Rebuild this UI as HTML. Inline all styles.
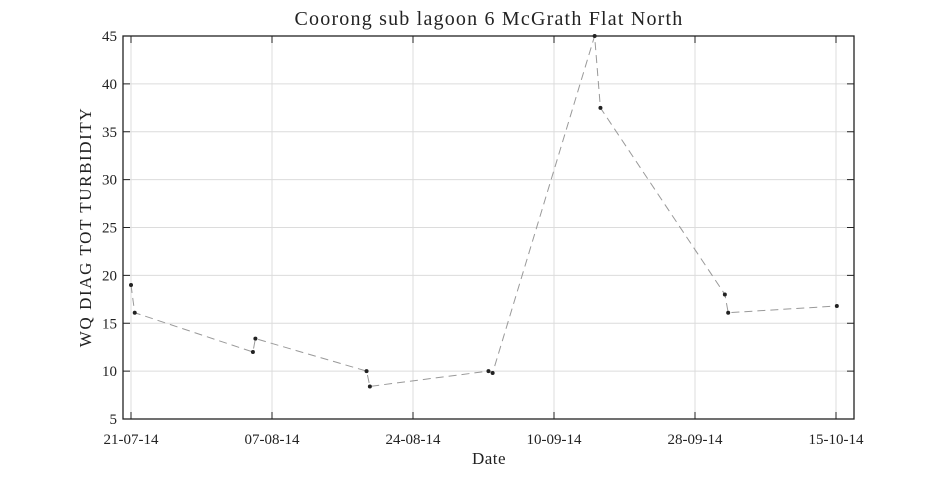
<!DOCTYPE html>
<html><head><meta charset="utf-8"><style>
html,body{margin:0;padding:0;background:#fff;}
svg text{font-family:"Liberation Serif",serif;fill:#222;}
</style></head><body>
<svg id="chart" width="945" height="472" viewBox="0 0 945 472" xmlns="http://www.w3.org/2000/svg">
<rect x="0" y="0" width="945" height="472" fill="#fff"/>
<text x="489" y="25" font-size="20" letter-spacing="1.2" text-anchor="middle">Coorong sub lagoon 6 McGrath Flat North</text>
<text x="489" y="464" font-size="17" letter-spacing="0.5" text-anchor="middle">Date</text>
<text transform="translate(91,227) rotate(-90)" font-size="17" letter-spacing="1.6" text-anchor="middle">WQ DIAG TOT TURBIDITY</text>
<g id="grid"></g><g id="series"></g><g id="axes"></g>
</svg>
<script>
const xTickDays = [0, 17, 34, 51, 68, 85];
const xTickLabels = ["21-07-14", "07-08-14", "24-08-14", "10-09-14", "28-09-14", "15-10-14"];
const yTicks = [5, 10, 15, 20, 25, 30, 35, 40, 45];
const sampleDays = [0, 0.45, 14.7, 15.0, 28.4, 28.8, 43.1, 43.6, 55.9, 56.6, 71.6, 72.0, 85.1];
const turbidity = [19, 16.1, 12, 13.4, 10, 8.4, 10, 9.8, 45, 37.5, 18, 16.1, 16.8];

const L = 123, R = 854, T = 36, B = 419;
const pxPerDay = 141 / 17, x0 = 131;
const xs = d => x0 + d * pxPerDay;
const ys = v => B - (v - 5) / 40 * (B - T);
const NS = "http://www.w3.org/2000/svg";
function mk(tag, attrs, parent) {
  const e = document.createElementNS(NS, tag);
  for (const k in attrs) e.setAttribute(k, attrs[k]);
  parent.appendChild(e);
  return e;
}
const grid = document.getElementById('grid'), axes = document.getElementById('axes'), series = document.getElementById('series');
xTickDays.forEach((d, i) => {
  const x = xs(d);
  const g = mk('line', {x1: x, x2: x, y1: T, y2: B, stroke: '#dcdcdc', 'stroke-width': 1}, grid);
  
  
  mk('line', {x1: x, x2: x, y1: B, y2: B - 7, stroke: '#222', 'stroke-width': 1}, axes);
  mk('line', {x1: x, x2: x, y1: T, y2: T + 7, stroke: '#222', 'stroke-width': 1}, axes);
  const t = mk('text', {x: x, y: B + 25, 'font-size': 15, 'text-anchor': 'middle'}, axes);
  t.textContent = xTickLabels[i];
  
  
});
yTicks.forEach(v => {
  const y = ys(v);
  const g = mk('line', {x1: L, x2: R, y1: y, y2: y, stroke: '#dcdcdc', 'stroke-width': 1}, grid);
  
  
  mk('line', {x1: L, x2: L + 7, y1: y, y2: y, stroke: '#222', 'stroke-width': 1}, axes);
  mk('line', {x1: R, x2: R - 7, y1: y, y2: y, stroke: '#222', 'stroke-width': 1}, axes);
  const t = mk('text', {x: L - 6, y: y + 5, 'font-size': 15, 'text-anchor': 'end'}, axes);
  t.textContent = v;
  
  
});
const frame = mk('rect', {x: L, y: T, width: R - L, height: B - T, fill: 'none', stroke: '#222', 'stroke-width': 1.3}, axes);


const pts = sampleDays.map((d, i) => xs(d).toFixed(1) + ',' + ys(turbidity[i]).toFixed(1)).join(' ');
const line = mk('polyline', {points: pts, fill: 'none', stroke: '#999', 'stroke-width': 1, 'stroke-dasharray': '8,5'}, series);


sampleDays.forEach((d, i) => {
  const c = mk('circle', {cx: xs(d), cy: ys(turbidity[i]), r: 2, fill: '#222'}, series);
  
  
});
</script>
</body></html>
